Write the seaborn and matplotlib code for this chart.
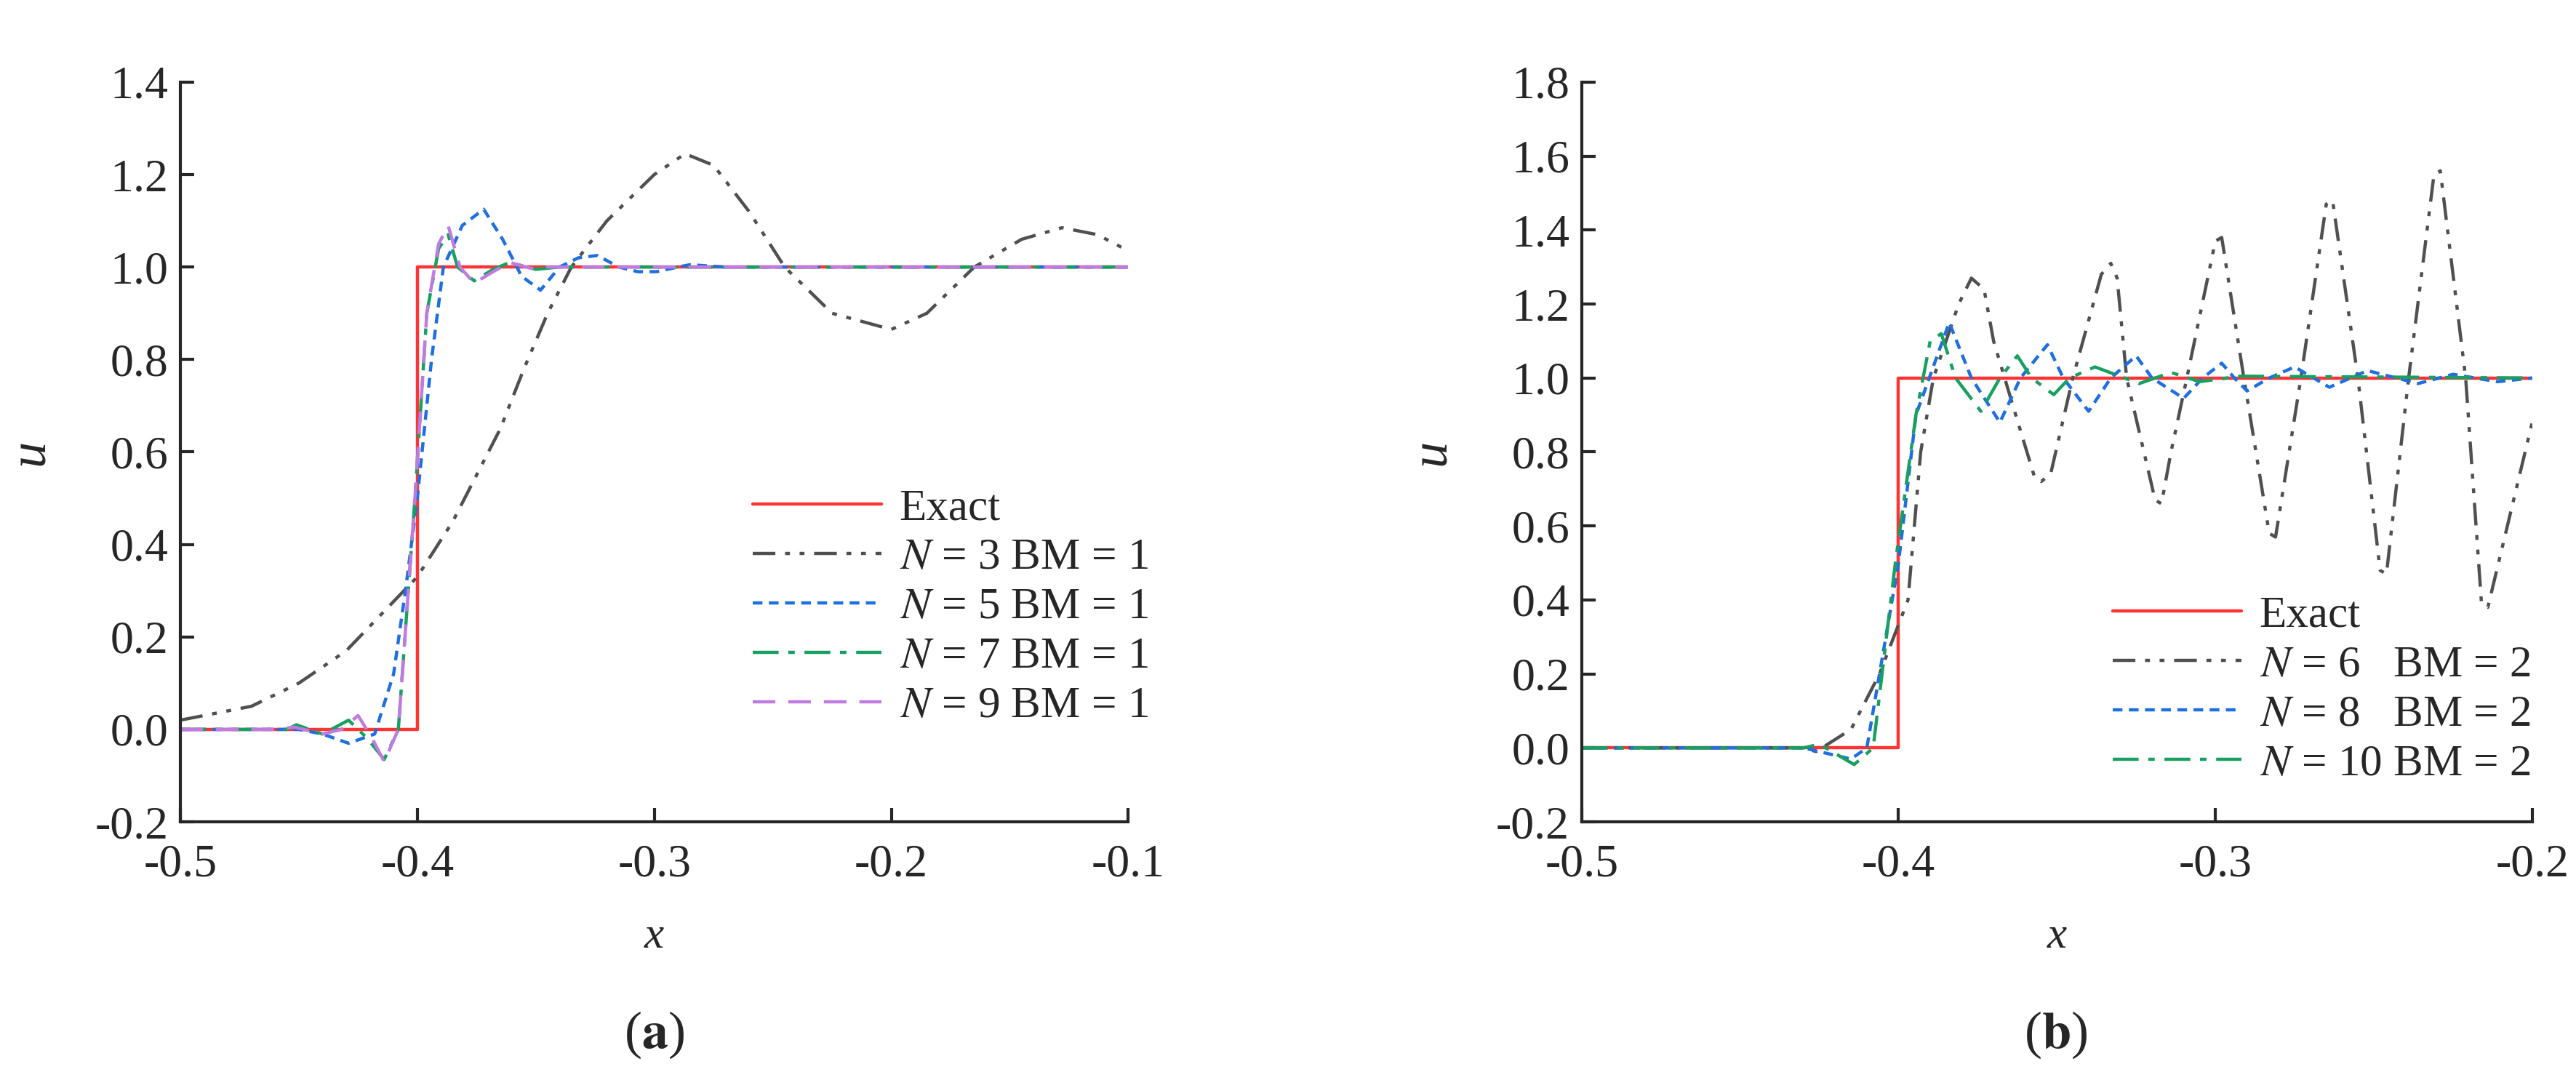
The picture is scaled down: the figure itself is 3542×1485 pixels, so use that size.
import numpy as np
import pandas as pd
import matplotlib
matplotlib.use("Agg")
import matplotlib.pyplot as plt
import seaborn as sns

sns.set_style("ticks")
plt.rcParams['font.family'] = ['Liberation Serif', 'DejaVu Serif']
plt.rcParams['mathtext.fontset'] = 'stix'

# ---------------- data ----------------
# panel (a)
exact_a_x = [-0.5, -0.4, -0.4, -0.1]
exact_a_y = [0.0, 0.0, 1.0, 1.0]
n3_x = [-0.5, -0.47, -0.45, -0.43, -0.415, -0.40, -0.385, -0.375, -0.365, -0.355, -0.345, -0.335,
        -0.32, -0.30, -0.287, -0.275, -0.26, -0.245, -0.225, -0.20, -0.185, -0.165, -0.145, -0.128, -0.113, -0.10]
n3_y = [0.02, 0.05, 0.10, 0.17, 0.25, 0.33, 0.45, 0.55, 0.65, 0.78, 0.90, 1.00,
        1.10, 1.20, 1.245, 1.22, 1.12, 1.00, 0.90, 0.865, 0.90, 1.00, 1.06, 1.085, 1.07, 1.035]
n5_x = [-0.5, -0.45, -0.44, -0.429, -0.418, -0.41, -0.405, -0.40, -0.394, -0.389, -0.381, -0.372,
        -0.364, -0.356, -0.348, -0.340, -0.332, -0.324, -0.315, -0.307, -0.299, -0.29, -0.285, -0.27, -0.1]
n5_y = [0.0, 0.0, -0.01, -0.03, -0.01, 0.12, 0.3, 0.5, 0.8, 1.0, 1.09, 1.125,
        1.06, 0.98, 0.95, 1.0, 1.02, 1.025, 1.0, 0.99, 0.99, 1.0, 1.005, 1.0, 1.0]
n7_x = [-0.5, -0.455, -0.451, -0.44, -0.429, -0.421, -0.414, -0.408, -0.401, -0.396, -0.391, -0.387,
        -0.383, -0.376, -0.368, -0.361, -0.35, -0.34, -0.1]
n7_y = [0.0, 0.0, 0.01, -0.01, 0.02, -0.02, -0.065, 0.0, 0.5, 0.9, 1.04, 1.07,
        1.0, 0.97, 0.995, 1.01, 0.995, 1.0, 1.0]
n9_x = [-0.5, -0.46, -0.452, -0.44, -0.432, -0.425, -0.419, -0.414, -0.408, -0.401, -0.396, -0.391,
        -0.387, -0.382, -0.376, -0.368, -0.361, -0.352, -0.345, -0.1]
n9_y = [0.0, 0.0, 0.005, -0.01, 0.0, 0.03, -0.02, -0.07, 0.0, 0.5, 0.9, 1.05,
        1.09, 1.0, 0.965, 0.99, 1.01, 0.997, 1.0, 1.0]

# panel (b)
exact_b_x = [-0.5, -0.4, -0.4, -0.2]
exact_b_y = [0.0, 0.0, 1.0, 1.0]
n6_x = [-0.5, -0.43, -0.426, -0.415, -0.406, -0.397, -0.393, -0.389, -0.381, -0.377, -0.373, -0.370, -0.363,
        -0.357, -0.355, -0.352, -0.345, -0.336, -0.333, -0.331, -0.328, -0.319, -0.317, -0.314, -0.309,
        -0.300, -0.298, -0.291, -0.283, -0.281, -0.273, -0.265, -0.263, -0.255, -0.248, -0.246,
        -0.239, -0.231, -0.229, -0.221, -0.216, -0.214, -0.2]
n6_y = [0.0, 0.0, -0.01, 0.05, 0.2, 0.4, 0.8, 1.0, 1.2, 1.27, 1.24, 1.1, 0.9,
        0.73, 0.72, 0.74, 1.0, 1.28, 1.31, 1.27, 1.0, 0.67, 0.66, 0.8, 1.0,
        1.37, 1.38, 1.0, 0.58, 0.57, 1.0, 1.47, 1.48, 1.0, 0.48, 0.47,
        1.0, 1.55, 1.56, 1.0, 0.39, 0.38, 0.88]
n8_x = [-0.5, -0.43, -0.415, -0.41, -0.40, -0.3945, -0.384, -0.377, -0.368, -0.3615, -0.353, -0.348,
        -0.340, -0.333, -0.325, -0.320, -0.310, -0.304, -0.298, -0.294, -0.290, -0.283, -0.275, -0.264,
        -0.252, -0.236, -0.225, -0.211, -0.2]
n8_y = [0.0, 0.0, -0.03, 0.0, 0.5, 0.9, 1.15, 1.0, 0.88, 1.0, 1.09, 1.0,
        0.91, 1.0, 1.06, 1.0, 0.945, 1.0, 1.04, 1.0, 0.965, 1.0, 1.03, 0.975,
        1.02, 0.985, 1.01, 0.99, 1.0]
n10_x = [-0.5, -0.43, -0.425, -0.414, -0.408, -0.401, -0.3945, -0.390, -0.3865, -0.382, -0.374, -0.368,
         -0.3625, -0.358, -0.351, -0.346, -0.338, -0.324, -0.314, -0.305, -0.292, -0.2]
n10_y = [0.0, 0.0, 0.01, -0.045, 0.0, 0.5, 0.9, 1.1, 1.12, 1.0, 0.91, 1.0,
         1.06, 1.0, 0.955, 1.0, 1.03, 0.985, 1.015, 0.99, 1.005, 1.0]

RED, GREY, BLUE, GREEN, PURPLE = '#ff3333', '#505050', '#1f6fe0', '#17a060', '#c07ae0'
DDOT = (0, (7, 3, 1.5, 3, 1.5, 3))
SDASH = (0, (3, 2))
DDASH = (0, (8, 3, 2, 3))
LDASH = (0, (7, 4))

series_a = [
    (exact_a_x, exact_a_y, 'Exact', RED, '-'),
    (n3_x, n3_y, r'$N$ = 3 BM = 1', GREY, DDOT),
    (n5_x, n5_y, r'$N$ = 5 BM = 1', BLUE, SDASH),
    (n7_x, n7_y, r'$N$ = 7 BM = 1', GREEN, DDASH),
    (n9_x, n9_y, r'$N$ = 9 BM = 1', PURPLE, LDASH),
]
series_b = [
    (exact_b_x, exact_b_y, 'Exact', RED, '-'),
    (n6_x, n6_y, r'$N$ = 6   BM = 2', GREY, DDOT),
    (n8_x, n8_y, r'$N$ = 8   BM = 2', BLUE, SDASH),
    (n10_x, n10_y, r'$N$ = 10 BM = 2', GREEN, DDASH),
]

FS = 44
fig = plt.figure(figsize=(35.42, 14.85), dpi=100)
ax_a = fig.add_axes([0.070, 0.239, 0.368, 0.685])
ax_b = fig.add_axes([0.614, 0.239, 0.369, 0.685])


def draw(ax, series, xlim, ylim, yticks, anchor):
    for xs, ys, lab, col, ls in series:
        df = pd.DataFrame({'x': xs, 'y': ys})
        sns.lineplot(data=df, x='x', y='y', ax=ax, color=col, linestyle=ls,
                     linewidth=3.2, label=lab, sort=False, estimator=None)
    ax.set_xlim(*xlim)
    ax.set_ylim(*ylim)
    ax.set_yticks(yticks)
    ax.set_xticks(np.arange(xlim[0], xlim[1] + 1e-9, 0.1))
    ax.xaxis.set_major_formatter(plt.FuncFormatter(lambda v, p: f'{v:.1f}'))
    ax.yaxis.set_major_formatter(plt.FuncFormatter(lambda v, p: f'{v:.1f}'))
    for s in ['top', 'right']:
        ax.spines[s].set_visible(False)
    for s in ['left', 'bottom']:
        ax.spines[s].set_linewidth(3)
    ax.tick_params(direction='in', length=14, width=3, labelsize=FS + 2)
    ax.tick_params(axis='y', pad=12)
    ax.tick_params(axis='x', pad=22)
    ax.set_xlabel('x', fontsize=FS, style='italic', labelpad=30)
    ax.set_ylabel('u', fontsize=FS + 8, style='italic', labelpad=40, rotation=90)
    ax.legend(loc='upper left', bbox_to_anchor=anchor, frameon=False, fontsize=FS,
              handlelength=2.9, handletextpad=0.4, labelspacing=0.2, borderaxespad=0)


draw(ax_a, series_a, (-0.5, -0.1), (-0.2, 1.4), np.arange(-0.2, 1.41, 0.2), (0.585, 0.475))
draw(ax_b, series_b, (-0.5, -0.2), (-0.2, 1.8), np.arange(-0.2, 1.81, 0.2), (0.54, 0.33))

fig.text(0.254, 0.03, r'($\mathbf{a}$)', fontsize=FS + 8, ha='center')
fig.text(0.798, 0.03, r'($\mathbf{b}$)', fontsize=FS + 8, ha='center')

fig.savefig('out.png', dpi=100)
